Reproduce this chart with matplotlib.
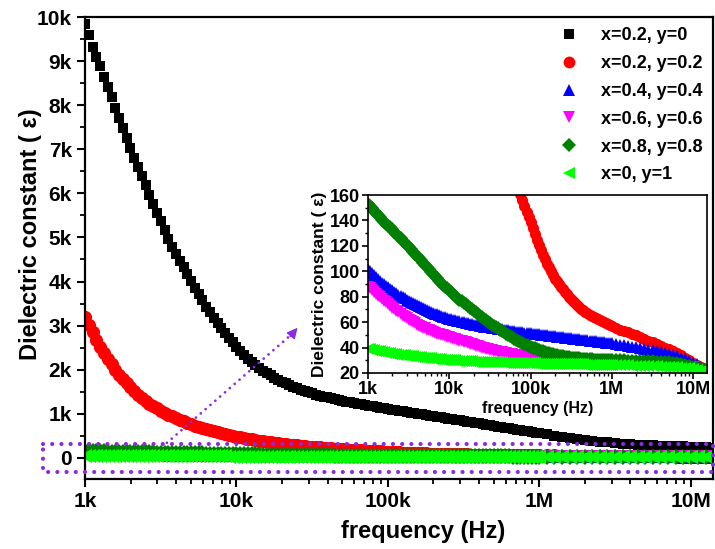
import matplotlib
matplotlib.use("Agg")
import matplotlib.pyplot as plt
import matplotlib.transforms as mtransforms
from matplotlib.lines import Line2D
from matplotlib.ticker import MultipleLocator, NullFormatter
import numpy as np

plt.rcParams['font.family'] = ['Liberation Sans', 'DejaVu Sans']
plt.rcParams['font.weight'] = 'bold'

# frequency sweep (kHz): 40 points per decade up to 1M, 20 per decade above
freq_khz = [
    1, 1.059, 1.122, 1.189, 1.259, 1.334, 1.413, 1.496, 1.585, 1.679,
    1.778, 1.884, 1.995, 2.113, 2.239, 2.371, 2.512, 2.661, 2.818, 2.985,
    3.162, 3.350, 3.548, 3.758, 3.981, 4.217, 4.467, 4.732, 5.012, 5.309,
    5.623, 5.957, 6.310, 6.683, 7.079, 7.499, 7.943, 8.414, 8.913, 9.441,
    10, 10.59, 11.22, 11.89, 12.59, 13.34, 14.13, 14.96, 15.85, 16.79,
    17.78, 18.84, 19.95, 21.13, 22.39, 23.71, 25.12, 26.61, 28.18, 29.85,
    31.62, 33.50, 35.48, 37.58, 39.81, 42.17, 44.67, 47.32, 50.12, 53.09,
    56.23, 59.57, 63.10, 66.83, 70.79, 74.99, 79.43, 84.14, 89.13, 94.41,
    100, 105.9, 112.2, 118.9, 125.9, 133.4, 141.3, 149.6, 158.5, 167.9,
    177.8, 188.4, 199.5, 211.3, 223.9, 237.1, 251.2, 266.1, 281.8, 298.5,
    316.2, 335.0, 354.8, 375.8, 398.1, 421.7, 446.7, 473.2, 501.2, 530.9,
    562.3, 595.7, 631.0, 668.3, 707.9, 749.9, 794.3, 841.4, 891.3, 944.1,
    1000, 1122, 1259, 1413, 1585, 1778, 1995, 2239, 2512, 2818,
    3162, 3548, 3981, 4467, 5012, 5623, 6310, 7079, 7943, 8913,
    10000, 11220, 12590, 14130,
]

eps_02_0 = [
    9850, 9600, 9320, 9100, 8880, 8640, 8420, 8180, 7940, 7710,
    7480, 7250, 7030, 6810, 6600, 6390, 6180, 5970, 5760, 5560,
    5370, 5160, 4970, 4790, 4620, 4470, 4320, 4170, 4010, 3860,
    3720, 3570, 3430, 3300, 3180, 3060, 2940, 2830, 2720, 2620,
    2520, 2420, 2330, 2250, 2170, 2100, 2030, 1975, 1920, 1870,
    1820, 1775, 1730, 1690, 1650, 1615, 1580, 1550, 1520, 1490,
    1460, 1435, 1410, 1390, 1370, 1350, 1330, 1310, 1290, 1275,
    1260, 1245, 1230, 1215, 1200, 1185, 1170, 1155, 1140, 1125,
    1110, 1096, 1082, 1068, 1055, 1041, 1027, 1013, 1000, 986,
    972, 958, 945, 931, 917, 903, 890, 876, 862, 848,
    835, 821, 807, 793, 780, 766, 752, 738, 725, 711,
    697, 683, 670, 656, 642, 628, 615, 601, 587, 573,
    560, 530, 500, 475, 450, 425, 405, 385, 365, 350,
    335, 322, 310, 300, 292, 285, 278, 272, 266, 260,
    255, 248, 240, 232,
]
eps_02_02 = [
    3200, 3020, 2850, 2680, 2520, 2380, 2240, 2120, 2000, 1890,
    1790, 1695, 1600, 1515, 1430, 1360, 1290, 1230, 1170, 1120,
    1070, 1025, 980, 940, 900, 865, 830, 795, 760, 730,
    700, 675, 650, 625, 600, 580, 560, 540, 520, 500,
    480, 465, 450, 435, 420, 405, 390, 377, 365, 352,
    340, 330, 320, 310, 300, 290, 280, 272, 265, 257,
    250, 242, 235, 228, 222, 216, 210, 204, 198, 192,
    187, 181, 176, 171, 166, 161, 156, 151, 147, 143,
    139, 134, 129, 125, 121, 117, 113, 109.5, 106, 103,
    100, 97, 94, 92, 90, 88, 86, 84, 82, 80,
    78, 76.5, 75, 73.5, 72, 70.7, 69.5, 68.2, 67, 66,
    65, 64, 63, 62.2, 61.5, 60.7, 60, 59.2, 58.5, 57.7,
    57, 55.5, 54, 53, 52, 50.5, 49.5, 48, 47, 45.5,
    44, 42.5, 41, 40, 38.5, 37, 35.5, 34, 32, 30,
    28, 26, 24.5, 23,
]
eps_04_04 = [
    102, 100.3, 98.6, 97, 95.4, 93.9, 92.5, 91.1, 89.8, 88.5,
    87.3, 86.1, 85, 83.9, 82.8, 81.7, 80.7, 79.7, 78.7, 77.8,
    76.9, 76, 75.1, 74.2, 73.4, 72.6, 71.8, 71, 70.3, 69.5,
    68.8, 68.1, 67.4, 66.7, 66.1, 65.5, 64.9, 64.3, 63.8, 63.3,
    62.8, 62.3, 61.9, 61.4, 61, 60.6, 60.2, 59.8, 59.4, 59,
    58.7, 58.3, 58, 57.7, 57.4, 57.1, 56.8, 56.5, 56.3, 56,
    55.8, 55.5, 55.3, 55, 54.8, 54.5, 54.3, 54, 53.8, 53.5,
    53.3, 53, 52.8, 52.6, 52.4, 52.2, 52, 51.8, 51.6, 51.4,
    51.2, 51, 50.8, 50.6, 50.4, 50.2, 50, 49.8, 49.6, 49.4,
    49.2, 49, 48.8, 48.6, 48.4, 48.2, 48, 47.8, 47.6, 47.4,
    47.2, 47, 46.8, 46.6, 46.4, 46.2, 46, 45.8, 45.6, 45.4,
    45.2, 45, 44.8, 44.6, 44.4, 44.2, 44, 43.8, 43.6, 43.4,
    43.2, 42.7, 42.2, 41.7, 41.2, 40.7, 40.2, 39.6, 39, 38.4,
    37.8, 37.1, 36.4, 35.6, 34.8, 33.9, 33, 32, 30.9, 29.6,
    28.2, 26.7, 25.1, 23.5,
]
eps_06_06 = [
    88, 86.5, 85, 83.5, 82, 80.7, 79.5, 78.2, 77, 75.5,
    74, 72.7, 71.5, 70.2, 69, 67.7, 66.5, 65.2, 64, 63,
    62, 61, 60, 59, 58, 57.2, 56.5, 55.7, 55, 54.2,
    53.5, 52.7, 52, 51.5, 51, 50.5, 50, 49.5, 49, 48.5,
    48, 47.5, 47, 46.5, 46, 45.5, 45, 44.5, 44, 43.5,
    43, 42.5, 42, 41.5, 41, 40.5, 40, 39.5, 39, 38.6,
    38.2, 37.8, 37.5, 37.1, 36.8, 36.5, 36.2, 35.9, 35.6, 35.3,
    35, 34.7, 34.5, 34.2, 34, 33.7, 33.5, 33.2, 33, 32.8,
    32.6, 32.4, 32.2, 32, 31.9, 31.7, 31.6, 31.4, 31.3, 31.1,
    31, 30.9, 30.8, 30.7, 30.6, 30.5, 30.4, 30.3, 30.2, 30.1,
    30, 29.9, 29.8, 29.7, 29.6, 29.5, 29.4, 29.3, 29.2, 29.1,
    29, 28.9, 28.8, 28.7, 28.6, 28.5, 28.4, 28.3, 28.2, 28.1,
    28, 27.9, 27.8, 27.7, 27.6, 27.5, 27.4, 27.3, 27.2, 27.1,
    27, 26.9, 26.8, 26.6, 26.4, 26.2, 26, 25.7, 25.4, 25,
    24.5, 23.5, 22.5, 21.5,
]
eps_08_08 = [
    153, 151.2, 149.5, 147.7, 146, 144.2, 142.5, 140.7, 139, 137.5,
    136, 134.5, 133, 131.2, 129.5, 127.7, 126, 124.2, 122.5, 120.7,
    119, 117.2, 115.5, 113.7, 112, 110.2, 108.5, 106.7, 105, 103.2,
    101.5, 99.7, 98, 96.2, 94.5, 92.7, 91, 89.5, 88, 86.5,
    85, 83.5, 82, 80.5, 79, 77.7, 76.5, 75.2, 74, 72.7,
    71.5, 70.2, 69, 67.7, 66.5, 65.2, 64, 62.7, 61.5, 60.3,
    59.2, 58.1, 57, 56, 55, 54, 53, 52, 51, 50,
    49, 48, 47, 46.1, 45.3, 44.4, 43.6, 42.8, 42, 41.3,
    40.6, 39.9, 39.3, 38.7, 38.1, 37.5, 37, 36.5, 36, 35.5,
    35.1, 34.7, 34.3, 33.9, 33.6, 33.3, 33, 32.7, 32.5, 32.3,
    32.1, 31.9, 31.7, 31.5, 31.4, 31.2, 31.1, 31, 30.9, 30.8,
    30.7, 30.6, 30.5, 30.4, 30.4, 30.3, 30.3, 30.2, 30.2, 30.1,
    30.1, 30, 30, 29.9, 29.8, 29.7, 29.6, 29.5, 29.4, 29.3,
    29.2, 29, 28.8, 28.6, 28.3, 28, 27.6, 27.1, 26.5, 25.8,
    25, 24, 23, 22,
]
eps_0_1 = [
    39, 38.6, 38.3, 37.9, 37.6, 37.3, 37, 36.7, 36.4, 36.1,
    35.8, 35.5, 35.3, 35, 34.8, 34.5, 34.3, 34, 33.8, 33.6,
    33.4, 33.2, 33, 32.8, 32.6, 32.4, 32.2, 32, 31.9, 31.7,
    31.6, 31.4, 31.3, 31.1, 31, 30.8, 30.7, 30.5, 30.4, 30.3,
    30.2, 30.1, 30, 29.9, 29.8, 29.7, 29.6, 29.5, 29.4, 29.3,
    29.2, 29.1, 29, 28.9, 28.9, 28.8, 28.8, 28.7, 28.7, 28.6,
    28.6, 28.5, 28.5, 28.4, 28.4, 28.3, 28.3, 28.2, 28.2, 28.1,
    28.1, 28, 28, 27.9, 27.9, 27.8, 27.8, 27.7, 27.7, 27.6,
    27.6, 27.5, 27.5, 27.4, 27.4, 27.3, 27.3, 27.2, 27.2, 27.1,
    27.1, 27, 27, 27, 27, 26.9, 26.9, 26.9, 26.9, 26.8,
    26.8, 26.8, 26.8, 26.7, 26.7, 26.7, 26.7, 26.6, 26.6, 26.6,
    26.6, 26.5, 26.5, 26.5, 26.5, 26.4, 26.4, 26.4, 26.4, 26.3,
    26.3, 26.2, 26.1, 26, 25.9, 25.8, 25.7, 25.6, 25.5, 25.4,
    25.3, 25.2, 25.1, 25, 24.8, 24.6, 24.4, 24.2, 24, 23.6,
    23, 22.3, 21.5, 20.8,
]

labels = ['x=0.2, y=0', 'x=0.2, y=0.2', 'x=0.4, y=0.4',
          'x=0.6, y=0.6', 'x=0.8, y=0.8', 'x=0, y=1']
colors = ['black', '#ff0000', '#0000ff', '#ff00ff', '#008000', '#00ff00']
markers = ['s', 'o', '^', 'v', 'D', '<']
main_ms = [7, 9.5, 10, 10, 8.5, 10]
inset_ms = [8, 8.5, 8.5, 7.5, 8.5]
legend_ms = [7, 8.5, 8.5, 8.5, 7.5, 8.5]

x_ticks = [1e3, 1e4, 1e5, 1e6, 1e7]
x_ticklabels = ['1k', '10k', '100k', '1M', '10M']
y_ticks = [0, 1000, 2000, 3000, 4000, 5000, 6000, 7000, 8000, 9000, 10000]
y_ticklabels = ['0', '1k', '2k', '3k', '4k', '5k', '6k', '7k', '8k', '9k', '10k']
inset_yticks = [20, 40, 60, 80, 100, 120, 140, 160]

freq = np.array(freq_khz) * 1000
series = [eps_02_0, eps_02_02, eps_04_04, eps_06_06, eps_08_08, eps_0_1]

fig = plt.figure(figsize=(7.15, 5.49), dpi=100)
ax = fig.add_axes([0.119, 0.1275, 0.878, 0.8415])

for vals, c, m, ms in zip(series, colors, markers, main_ms):
    ax.plot(freq, vals, linestyle='none', marker=m, color=c, markersize=ms,
            markeredgewidth=0)

ax.set_xscale('log')
ax.set_xlim(1e3, 1.4e7)
ax.set_ylim(-480, 10000)
ax.set_xticks(x_ticks)
ax.set_xticklabels(x_ticklabels)
ax.xaxis.set_minor_formatter(NullFormatter())
ax.set_yticks(y_ticks)
ax.set_yticklabels(y_ticklabels)
ax.yaxis.set_minor_locator(MultipleLocator(500))
ax.tick_params(which='major', direction='out', length=6, width=1.5, labelsize=15)
ax.tick_params(which='minor', direction='out', length=3.5, width=1.3)
for sp in ax.spines.values():
    sp.set_linewidth(1.6)

ax.set_xlabel('frequency (Hz)', fontsize=17, fontweight='bold')
ax.xaxis.set_label_coords(0.538, -0.088)
ax.set_ylabel('Dielectric constant ( \u03b5)', fontsize=17, fontweight='bold')
ax.yaxis.set_label_coords(-0.068, 0.53)

# dotted box round the low-value band
purple = '#8a2be2'
trans = mtransforms.blended_transform_factory(ax.transAxes, ax.transData)
ax.plot([-0.067, 1.0, 1.0, -0.067, -0.067], [310, 310, -310, -310, 310],
        transform=trans, clip_on=False, color=purple, linewidth=3,
        linestyle=(0, (0.01, 2.2)), dash_capstyle='round', zorder=5)

# dotted arrow up to the inset
ax.plot([3470, 24000], [340, 2850], color=purple, linewidth=2,
        linestyle=(0, (0.01, 2.3)), dash_capstyle='round', zorder=5)
ax.annotate('', xy=(26000, 3000), xytext=(22000, 2700),
            arrowprops=dict(arrowstyle='-|>', color=purple, lw=1,
                            mutation_scale=16), zorder=5)

handles = [Line2D([], [], linestyle='none', marker=m, color=c, markersize=s,
                  markeredgewidth=0)
           for m, c, s in zip(markers, colors, legend_ms)]
ax.legend(handles, labels, loc='upper right', bbox_to_anchor=(1.01, 1.013),
          frameon=False, prop={'size': 13, 'weight': 'bold'}, numpoints=1,
          handlelength=1.0, handletextpad=1.3, labelspacing=0.6)

# inset
axin = fig.add_axes([0.5147, 0.3206, 0.4741, 0.3242])
axin.set_facecolor('white')
for vals, c, m, ms in zip(series[1:], colors[1:], markers[1:], inset_ms):
    axin.plot(freq, vals, linestyle='none', marker=m, color=c, markersize=ms,
              markeredgewidth=0)
axin.set_xscale('log')
axin.set_xlim(1e3, 1.48e7)
axin.set_ylim(20, 160)
axin.set_xticks(x_ticks)
axin.set_xticklabels(x_ticklabels)
axin.xaxis.set_minor_formatter(NullFormatter())
axin.set_yticks(inset_yticks)
axin.yaxis.set_minor_locator(MultipleLocator(10))
axin.tick_params(which='major', direction='out', length=4, width=1.2, labelsize=13, pad=2)
axin.tick_params(which='minor', direction='out', length=2.5, width=1)
for sp in axin.spines.values():
    sp.set_linewidth(1.2)
axin.set_xlabel('frequency (Hz)', fontsize=11.5, fontweight='bold', labelpad=2)
axin.set_ylabel('Dielectric constant ( \u03b5)', fontsize=12.5, fontweight='bold', labelpad=2)

fig.savefig('out.png', dpi=100)
